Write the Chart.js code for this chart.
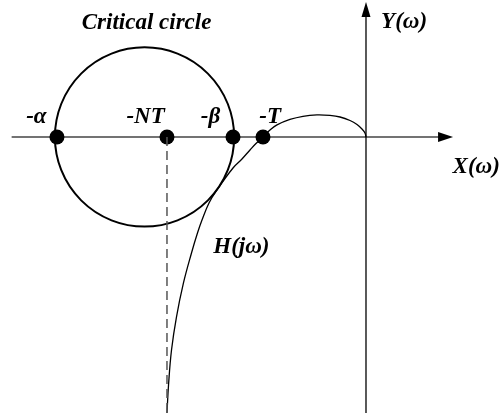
<!DOCTYPE html>
<html>
<head>
<meta charset="utf-8">
<script src="https://cdn.jsdelivr.net/npm/chart.js@4.4.0/dist/chart.umd.min.js"></script>
<style>
  html, body { margin: 0; padding: 0; background: #fff; }
  canvas { display: block; }
</style>
</head>
<body>
<canvas id="nyquist" width="503" height="416"></canvas>
<script>
// points on the real axis (units of T)
const markerNames = ['-α', '-NT', '-β', '-T'];
const markerX = [-3.0, -1.932, -1.291, -1.0];

// critical circle: centre and radius
const circleCentre = [-2.15, 0];
const circleRadius = 0.87;

// H(jω) locus
const locusX = [0, -0.010, -0.039, -0.087, -0.155, -0.252, -0.350, -0.476, -0.612, -0.738,
                -0.864, -0.932, -1.0, -1.068, -1.126, -1.204, -1.291, -1.447, -1.524, -1.592,
                -1.636, -1.694, -1.772, -1.840, -1.888, -1.917, -1.932];
const locusY = [0, 0.039, 0.078, 0.121, 0.160, 0.194, 0.209, 0.214, 0.201, 0.170,
                0.117, 0.068, 0, -0.063, -0.126, -0.214, -0.301, -0.515, -0.641, -0.806,
                -0.932, -1.126, -1.417, -1.748, -2.068, -2.408, -2.68];

// asymptote at -NT
const asymptoteY = [0, -2.68];

// axes: start and arrow tip
const xAxisRange = [-3.44, 0.845];
const yAxisRange = [-2.68, 1.31];

// text labels
const labelText = ['Critical circle', '-α', '-NT', '-β', '-T', 'Y(ω)', 'X(ω)', 'H(jω)'];
const labelX = [-2.13, -3.20, -2.14, -1.51, -0.93, 0.37, 1.07, -1.21];
const labelY = [1.05, 0.136, 0.136, 0.136, 0.136, 1.06, -0.35, -1.13];

const axesPlugin = {
    id: 'axes',
    beforeDatasetsDraw(chart) {
        const ctx = chart.ctx, sx = chart.scales.x, sy = chart.scales.y;
        const y0 = sy.getPixelForValue(0), x0 = sx.getPixelForValue(0);
        const xa = sx.getPixelForValue(xAxisRange[0]), xb = sx.getPixelForValue(xAxisRange[1]);
        const ya = sy.getPixelForValue(yAxisRange[0]), yb = sy.getPixelForValue(yAxisRange[1]);
        ctx.save();
        // x axis
        ctx.strokeStyle = '#444';
        ctx.fillStyle = '#000';
        ctx.lineWidth = 1.5;
        ctx.beginPath(); ctx.moveTo(xa, y0); ctx.lineTo(xb - 14, y0); ctx.stroke();
        ctx.beginPath(); ctx.moveTo(xb, y0); ctx.lineTo(xb - 15, y0 - 5); ctx.lineTo(xb - 15, y0 + 5); ctx.closePath(); ctx.fill();
        // y axis
        ctx.strokeStyle = '#000';
        ctx.lineWidth = 1.3;
        ctx.beginPath(); ctx.moveTo(x0, ya); ctx.lineTo(x0, yb + 14); ctx.stroke();
        ctx.beginPath(); ctx.moveTo(x0, yb); ctx.lineTo(x0 - 4.5, yb + 15); ctx.lineTo(x0 + 4.5, yb + 15); ctx.closePath(); ctx.fill();
        ctx.restore();
    },
    afterDatasetsDraw(chart) {
        const ctx = chart.ctx, sx = chart.scales.x, sy = chart.scales.y;
        ctx.save();
        ctx.fillStyle = '#000';
        ctx.font = 'italic bold 23px "Liberation Serif", "Times New Roman", serif';
        ctx.textAlign = 'center';
        ctx.textBaseline = 'alphabetic';
        labelText.forEach(function(t, i) {
            ctx.fillText(t, sx.getPixelForValue(labelX[i]), sy.getPixelForValue(labelY[i]));
        });
        ctx.restore();
    }
};

new Chart(document.getElementById('nyquist').getContext('2d'), {
    type: 'scatter',
    data: {
        datasets: [
            {
                label: 'asymptote',
                data: asymptoteY.map(function(y) { return {x: markerX[1], y: y}; }),
                showLine: true,
                borderColor: '#555',
                borderWidth: 1.5,
                borderDash: [9, 5],
                pointRadius: 0
            },
            {
                label: 'Critical circle',
                data: [{x: circleCentre[0], y: circleCentre[1]}],
                pointStyle: 'circle',
                pointRadius: function(c) {
                    const sx = c.chart.scales.x;
                    return Math.abs(sx.getPixelForValue(circleCentre[0] + circleRadius) - sx.getPixelForValue(circleCentre[0]));
                },
                pointBackgroundColor: 'rgba(0,0,0,0)',
                pointBorderColor: '#000',
                pointBorderWidth: 2,
                clip: false
            },
            {
                label: 'H(jω)',
                data: locusX.map(function(x, i) { return {x: x, y: locusY[i]}; }),
                showLine: true,
                borderColor: '#000',
                borderWidth: 1.3,
                tension: 0.4,
                pointRadius: 0
            },
            {
                label: 'points',
                data: markerX.map(function(x) { return {x: x, y: 0}; }),
                pointRadius: 7.5,
                pointBackgroundColor: '#000',
                pointBorderColor: '#000',
                pointBorderWidth: 0
            }
        ]
    },
    options: {
        responsive: false,
        animation: false,
        layout: {padding: 0, autoPadding: false},
        scales: {
            x: {type: 'linear', min: -3.553, max: 1.330, display: false},
            y: {type: 'linear', min: -2.709, max: 1.330, display: false}
        },
        plugins: {
            legend: {display: false},
            tooltip: {enabled: false}
        },
        events: []
    },
    plugins: [axesPlugin]
});
</script>
</body>
</html>
